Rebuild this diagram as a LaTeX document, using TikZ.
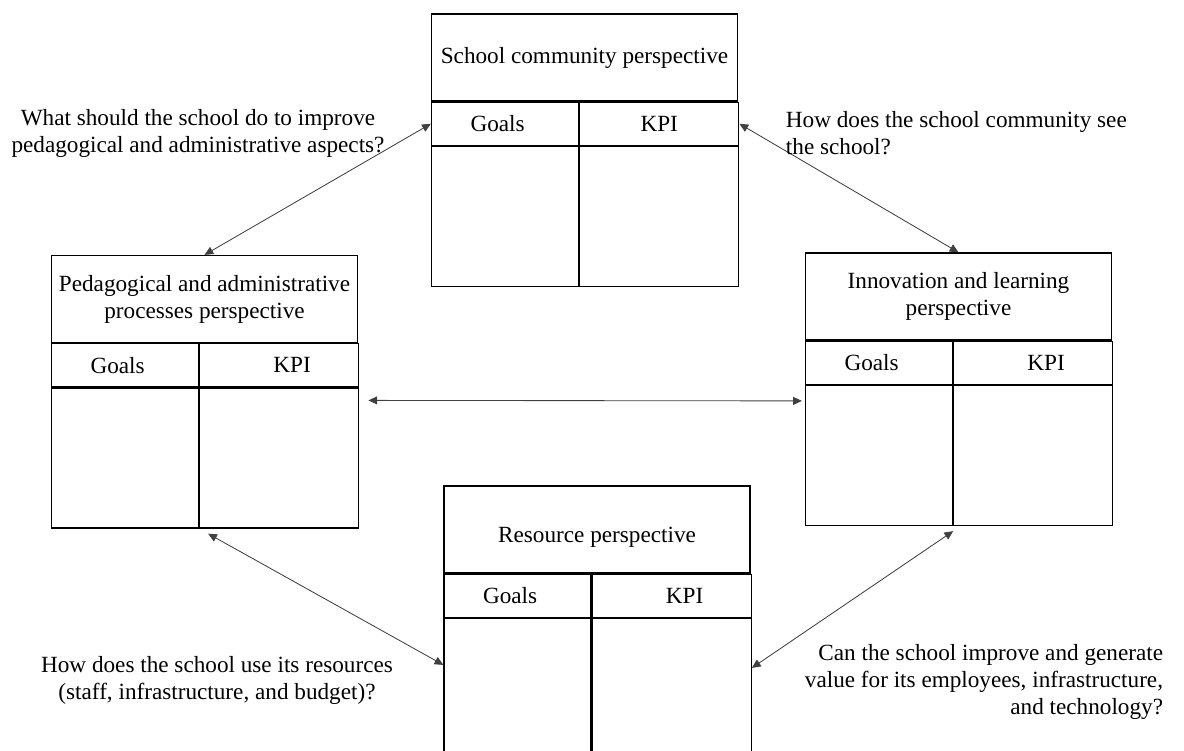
\documentclass[tikz,border=0pt]{standalone}
\usepackage{fontspec}
\setmainfont{Liberation Serif}
\usetikzlibrary{positioning,arrows.meta}

\begin{document}
\begin{tikzpicture}[font=\fontsize{16.5}{19.2}\selectfont]
%% each perspective is a table: title row, Goals/KPI row and an empty body
%% the widths of the two columns can be changed in goalcell and kpicell
\tikzstyle{persptitle}=[draw,line width=0.9pt,minimum width=7.65cm,minimum height=2.175cm,inner sep=0pt,align=center]
\tikzstyle{goalcell}=[draw,line width=0.9pt,minimum width=3.675cm,minimum height=1.075cm,inner sep=0pt,text width=1.725cm,align=left]
\tikzstyle{kpicell}=[goalcell,minimum width=3.975cm,text width=1.575cm,align=right]
\tikzstyle{goalbody}=[draw,line width=0.9pt,minimum width=3.675cm,minimum height=3.5cm,inner sep=0pt]
\tikzstyle{kpibody}=[goalbody,minimum width=3.975cm]
\tikzstyle{linkarc}=[{Triangle[length=2.2mm,width=2mm]}-{Triangle[length=2.2mm,width=2mm]},line width=0.6pt,black!75]
\tikzstyle{question}=[align=center]
\useasboundingbox (0,0) rectangle (29.6,-18.775);
%% School community perspective
\node[persptitle] at (14.6125,-1.4375) (SC) {School community perspective};
\node[goalcell,below right=0pt and 0pt of SC.south west] (SC_goals) {Goals};
\node[kpicell,right=0pt of SC_goals,text width=3.975cm,align=center] (SC_kpi) {KPI};
\node[goalbody,below=0pt of SC_goals] (SC_gbody) {};
\node[kpibody,below=0pt of SC_kpi] (SC_kbody) {};
%% Pedagogical and administrative processes perspective
\node[persptitle] at (5.1125,-7.475) (PA) {Pedagogical and administrative\\processes perspective};
\node[goalcell,below right=0pt and 0pt of PA.south west] (PA_goals) {Goals};
\node[kpicell,right=0pt of PA_goals] (PA_kpi) {KPI};
\node[goalbody,below=0pt of PA_goals] (PA_gbody) {};
\node[kpibody,below=0pt of PA_kpi] (PA_kbody) {};
%% Innovation and learning perspective
\node[persptitle] at (23.9625,-7.4125) (IL) {Innovation and learning\\perspective};
\node[goalcell,below right=0pt and 0pt of IL.south west] (IL_goals) {Goals};
\node[kpicell,right=0pt of IL_goals] (IL_kpi) {KPI};
\node[goalbody,below=0pt of IL_goals] (IL_gbody) {};
\node[kpibody,below=0pt of IL_kpi] (IL_kbody) {};
%% Resource perspective (runs off the bottom of the page)
\node[persptitle,text height=0.75cm] at (14.925,-13.2375) (RS) {Resource perspective};
\node[goalcell,below right=0pt and 0pt of RS.south west] (RS_goals) {Goals};
\node[kpicell,right=0pt of RS_goals] (RS_kpi) {KPI};
\node[goalbody,below=0pt of RS_goals,minimum height=4.5cm] (RS_gbody) {};
\node[kpibody,below=0pt of RS_kpi,minimum height=4.5cm] (RS_kbody) {};
%% arcs between the perspectives
\draw[linkarc] (SC_goals.west) -- (PA.north);
\draw[linkarc] (SC_kpi.east) -- (IL.north);
\draw[linkarc] ([xshift=0.225cm,yshift=-0.325cm]PA_kbody.north east) -- ([xshift=-0.075cm,yshift=-0.4cm]IL_gbody.north west);
\draw[linkarc] ([xshift=0.225cm,yshift=-0.125cm]PA_kbody.south west) -- ([yshift=-1.175cm]RS_gbody.north west);
\draw[linkarc] ([yshift=-1.25cm]RS_kbody.north east) -- ([yshift=-0.125cm]IL_kbody.south west);
%% questions next to the arcs
\node[question] at (4.95,-3.325) (Q_SC_PA) {What should the school do to improve\\pedagogical and administrative aspects?};
\node[question,align=left,anchor=west] at (19.525,-3.325) (Q_SC_IL) {How does the school community see\\the school?};
\node[question] at (5.425,-17.0) (Q_PA_RS) {How does the school use its resources\\(staff, infrastructure, and budget)?};
\node[question,align=right,anchor=east] at (29.2,-17.05) (Q_RS_IL) {Can the school improve and generate\\value for its employees, infrastructure,\\and technology?};
\end{tikzpicture}
\end{document}
